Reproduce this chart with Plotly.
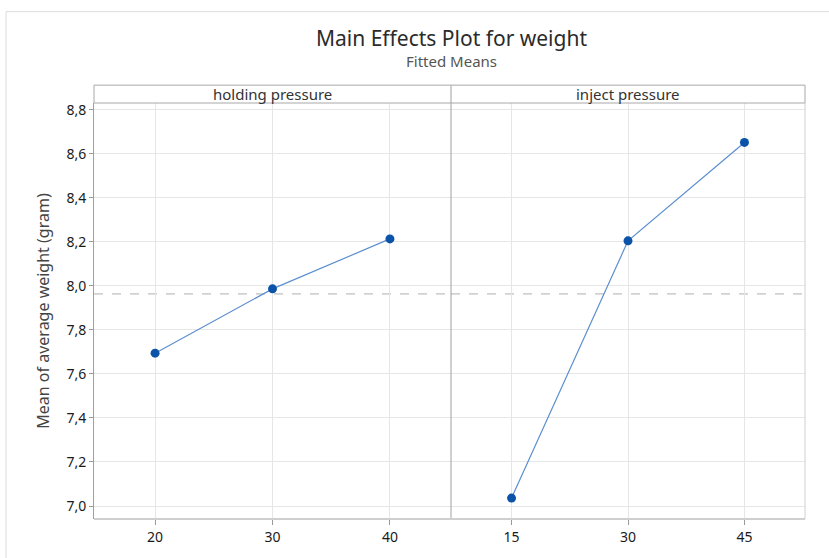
import plotly.graph_objects as go

# ---- data ----
factors = ["holding pressure", "inject pressure"]
holding_levels = ["20", "30", "40"]
holding_means = [7.694, 7.986, 8.213]
inject_levels = ["15", "30", "45"]
inject_means = [7.036, 8.204, 8.651]
grand_mean = 7.963
y_ticks = [7.0, 7.2, 7.4, 7.6, 7.8, 8.0, 8.2, 8.4, 8.6, 8.8]

W, H = 829, 558
L, R, T, B = 94, 805, 103, 522
ML, MR, MT, MB = L, W - R, T, H - B
PW, PH = R - L, B - T
split = (451 - L) / PW

line_col = "#5b8fd0"
mark_col = "#0a53a8"
grid_col = "#e6e6e6"
font_fam = "Noto Sans, Open Sans, sans-serif"

fig = go.Figure()
panels = [(holding_levels, holding_means, "x", "y"), (inject_levels, inject_means, "x2", "y2")]
for levels, means, xa, ya in panels:
    fig.add_trace(go.Scatter(
        x=list(range(len(levels))), y=means, xaxis=xa, yaxis=ya,
        mode="lines+markers",
        line=dict(color=line_col, width=1.2),
        marker=dict(color=mark_col, size=9),
        showlegend=False, hoverinfo="x+y"))

yrange = [6.941, 8.83]
xrange = [-0.52, 2.52]
common_x = dict(range=xrange, tickmode="array", tickvals=[0, 1, 2],
                showgrid=True, gridcolor=grid_col, gridwidth=1,
                ticks="outside", ticklen=5, tickcolor="#999",
                showline=False, zeroline=False,
                tickfont=dict(family=font_fam, size=14, color="#1a1a1a"))
fig.update_layout(
    width=W, height=H,
    margin=dict(l=ML, r=MR, t=MT, b=MB, pad=0),
    paper_bgcolor="white", plot_bgcolor="white",
    separators=",.",
    xaxis=dict(domain=[0, split], ticktext=holding_levels, anchor="y", **common_x),
    xaxis2=dict(domain=[split, 1], ticktext=inject_levels, anchor="y2", **common_x),
    yaxis=dict(domain=[0, 1], range=yrange, tickmode="array", tickvals=y_ticks,
               tickformat=".1f", showgrid=True, gridcolor=grid_col,
               ticks="outside", ticklen=4, tickcolor="#999",
               showline=True, linecolor="#a0a0a0", linewidth=1, zeroline=False,
               tickfont=dict(family=font_fam, size=14, color="#1a1a1a"),
               title=dict(text="Mean of average weight (gram)",
                          font=dict(family=font_fam, size=16, color="#444"), standoff=12),
               anchor="x"),
    yaxis2=dict(domain=[0, 1], range=yrange, tickmode="array", tickvals=y_ticks,
                showgrid=True, gridcolor=grid_col, showticklabels=False,
                ticks="", showline=False, zeroline=False, anchor="x2", matches="y"),
)

strip_h = (T - 85) / PH
shapes = []
# outer frame of chart
shapes.append(dict(type="rect", xref="paper", yref="paper",
                   x0=(6 - L) / PW, x1=(W + 5 - L) / PW,
                   y0=(B - (H + 5)) / PH, y1=(B - 11) / PH,
                   line=dict(color="#dcdcdc", width=1), fillcolor="rgba(0,0,0,0)", layer="below"))
# grand mean dashed line across both panels
for xa, ya in [("x", "y"), ("x2", "y2")]:
    shapes.append(dict(type="line", xref=f"{xa} domain", yref=ya, x0=0, x1=1,
                       y0=grand_mean, y1=grand_mean,
                       line=dict(color="#b0b0b0", width=1, dash="dash"), layer="below"))
# strip boxes
shapes.append(dict(type="rect", xref="paper", yref="paper", x0=0, x1=1, y0=1, y1=1 + strip_h,
                   line=dict(color="#a8a8a8", width=1), fillcolor="white"))
# divider between panels
shapes.append(dict(type="line", xref="paper", yref="paper", x0=split, x1=split, y0=0, y1=1 + strip_h,
                   line=dict(color="#a0a0a0", width=1)))
# right border of plot
shapes.append(dict(type="line", xref="paper", yref="paper", x0=1, x1=1, y0=0, y1=1,
                   line=dict(color="#d0d0d0", width=1)))
# bottom axis line
shapes.append(dict(type="line", xref="paper", yref="paper", x0=0, x1=1, y0=0, y1=0,
                   line=dict(color="#cfcfcf", width=2)))
fig.update_layout(shapes=shapes)

annotations = []
for i, name in enumerate(factors):
    cx = split / 2 if i == 0 else (split + 1) / 2
    annotations.append(dict(text=name, xref="paper", yref="paper", x=cx, y=1 + strip_h / 2,
                            xanchor="center", yanchor="middle", showarrow=False,
                            font=dict(family=font_fam, size=15, color="#333")))
annotations.append(dict(text="Main Effects Plot for weight", xref="paper", yref="paper",
                        x=split, y=(B - 38) / PH, xanchor="center", yanchor="middle", showarrow=False,
                        font=dict(family=font_fam, size=21, color="#2b2b2b")))
annotations.append(dict(text="Fitted Means", xref="paper", yref="paper",
                        x=split, y=(B - 61) / PH, xanchor="center", yanchor="middle", showarrow=False,
                        font=dict(family=font_fam, size=15, color="#555")))
fig.update_layout(annotations=annotations)

fig.write_html("out.html")
